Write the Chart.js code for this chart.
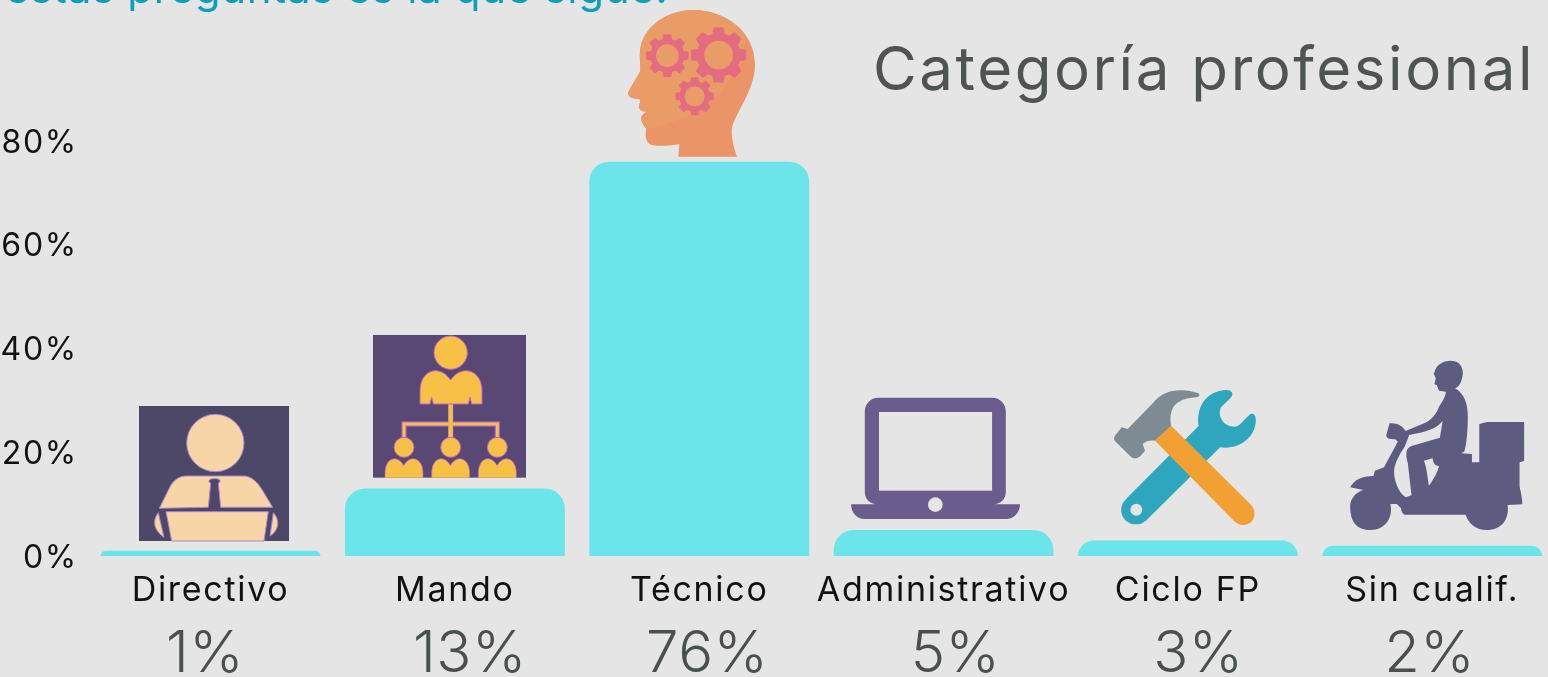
<!DOCTYPE html>
<html lang="es">
<head>
<meta charset="utf-8">
<style>
html,body{margin:0;padding:0;background:#E5E5E5;overflow:hidden;width:1548px;height:677px}
canvas{position:absolute;left:0;top:0}
</style>
<script src="https://cdn.jsdelivr.net/npm/chart.js@4"></script>
</head>
<body>
<canvas id="c" width="1600" height="677" style="width:1600px;height:677px"></canvas>
<script>
const categories = ['Directivo','Mando','Técnico','Administrativo','Ciclo FP','Sin cualif.'];
const shares = [1,13,76,5,3,2];
const shareLabelNudge = [-5.5,15,8,12,10.5,-2.5];
const headerText = 'estas preguntas es la que sigue.';
const titleText = 'Categoría profesional';

const BG='#E5E5E5', FONT='Inter, sans-serif';

function p(ctx,d,fill){ctx.fillStyle=fill;ctx.fill(new Path2D(d));}
function ell(ctx,x,y,rx,ry,fill,stroke){ctx.beginPath();ctx.ellipse(x,y,rx,ry,0,0,Math.PI*2);ctx.fillStyle=fill;ctx.fill();if(stroke){ctx.strokeStyle=stroke;ctx.lineWidth=3;ctx.stroke();}}
function inZoom(ctx,ox,oy,sx,sy,fn){ctx.save();ctx.translate(ox,oy);ctx.scale(1/sx,1/sy);fn();ctx.restore();}

function gear(ctx,cx,cy,ro,ri,hole,col,holeCol,rot){
  const n=8;ctx.beginPath();
  for(let i=0;i<n;i++){
    const a=rot+i*2*Math.PI/n,w=Math.PI/n;
    const pts=[[ri,a-w*0.72],[ro,a-w*0.46],[ro,a+w*0.46],[ri,a+w*0.72]];
    pts.forEach(([r,t],k)=>{const x=cx+r*Math.cos(t),y=cy+r*Math.sin(t);(i===0&&k===0)?ctx.moveTo(x,y):ctx.lineTo(x,y);});
  }
  ctx.closePath();ctx.fillStyle=col;ctx.fill();
  ell(ctx,cx,cy,hole,hole,holeCol);
}

function iconDirectivo(ctx){
  inZoom(ctx,90,320,3,3,()=>{
    ctx.fillStyle='#4E4868';ctx.fillRect(147,258,450,405);
    const skin='#F7D5A6',edge='#A884CF';
    ell(ctx,376,369,86,86,skin,edge);
    ctx.strokeStyle=edge;ctx.lineWidth=3;
    const body=new Path2D('M285,468 L465,468 C490,472 505,490 520,515 L548,562 L392,562 L385,490 C395,482 390,476 374,476 C358,476 352,482 362,490 L355,562 L208,565 L240,500 C250,482 265,470 285,468 Z');
    ctx.fillStyle=skin;ctx.fill(body);ctx.stroke(body);
    const desk=new Path2D('M228,575 L535,575 L522,663 L245,663 Z');
    ctx.fill(desk);ctx.stroke(desk);
    const la=new Path2D('M205,578 C188,600 188,628 222,652 Z');ctx.fill(la);ctx.stroke(la);
    const ra=new Path2D('M550,578 C570,600 568,630 540,648 Z');ctx.fill(ra);ctx.stroke(ra);
  });
}
function personBody(ctx,x,y,w,h,col){
  ctx.save();ctx.translate(x,y);ctx.scale(w/186,h/104);
  const b=new Path2D('M45,0 C60,0 75,5 92,28 C108,5 125,0 140,0 C170,2 186,30 186,60 L186,100 L155,100 L150,80 L145,100 L40,100 L35,80 L30,100 L0,100 L0,60 C0,30 15,2 45,0 Z');
  ctx.fillStyle=col;ctx.fill(b);ctx.strokeStyle='#C25FD0';ctx.lineWidth=3;ctx.stroke(b);
  ctx.restore();
}
function iconMando(ctx){
  inZoom(ctx,90,320,3,3,()=>{
    ctx.fillStyle='#594873';ctx.fillRect(849,45,459,428);
    const y='#F6C146',e='#C25FD0';
    ctx.save();ctx.beginPath();ctx.rect(849,45,459,428);ctx.clip();
    ctx.strokeStyle='#A45FD8';ctx.lineWidth=16;ctx.beginPath();
    ctx.moveTo(942,360);ctx.lineTo(942,312);ctx.lineTo(1222,312);ctx.lineTo(1222,360);ctx.moveTo(1082,250);ctx.lineTo(1082,360);ctx.stroke();
    ctx.strokeStyle=y;ctx.lineWidth=9;ctx.stroke();
    ctx.beginPath();ctx.lineWidth=13;ctx.moveTo(1082,250);ctx.lineTo(1082,360);ctx.stroke();
    ell(ctx,1082,98,50,50,y,e);
    personBody(ctx,990,152,186,104,y);
    [942,1082,1222].forEach(x=>{ell(ctx,x,382,30,30,y,e);personBody(ctx,x-57,416,114,75,y);});
    ctx.restore();
  });
}
function iconTecnico(ctx){
  inZoom(ctx,580,0,3,3,()=>{
    const head=new Path2D('M295,470 L298,432 C270,438 215,442 205,428 C195,420 197,400 198,385 C185,370 180,355 187,345 L200,335 C180,335 170,320 182,305 L178,297 C150,297 138,285 148,270 L180,215 C185,200 175,180 182,140 C195,80 260,30 340,30 C430,30 525,90 525,195 C525,260 480,320 460,370 C445,400 470,470 472,470 Z');
    ctx.fillStyle='#EA9468';ctx.fill(head);
    ctx.save();ctx.clip(head);
    p(ctx,'M100,0 L510,0 L500,115 C480,200 440,260 400,300 C340,350 260,375 195,388 L100,400 Z','#E99C66');
    ctx.restore();
    const pink='#E46C80',hole='#EA9C68';
    gear(ctx,416,165,84,66,43,pink,hole,Math.PI/2);
    gear(ctx,262,167,65,51,34,pink,hole,Math.PI/2);
    gear(ctx,344,289,58,46,30,pink,hole,Math.PI/2);
  });
}
function iconLaptop(ctx){
  inZoom(ctx,830,350,2.184,3,()=>{
    const c='#6A5C8C';
    p(ctx,'M106,143 L354,143 C372,143 384,162 384,185 L384,425 C384,448 372,463 354,463 L415,463 C415,490 400,507 385,507 L75,507 C60,507 46,490 46,463 L106,463 C88,463 76,448 76,425 L76,185 C76,162 88,143 106,143 Z',c);
    ctx.fillStyle=BG;ctx.fillRect(107,186,247,236);
    ell(ctx,230,464,16,22,BG);
  });
}
function iconTools(ctx){
  inZoom(ctx,830,350,2.184,3,()=>{
    const t='#2DA6BE';
    ell(ctx,668,480,32,43,t);
    p(ctx,'M648,445 L805,228 C800,180 815,125 865,120 C880,120 882,135 875,143 L855,170 C845,190 855,230 885,230 C895,228 900,215 918,192 C925,188 930,195 930,210 C930,260 895,300 852,292 L690,512 Z',t);
    ell(ctx,669,479,13,18,BG);
    p(ctx,'M745,228 C740,180 750,150 790,143 C805,143 810,138 805,130 C770,115 730,115 705,160 L650,237 L637,232 L622,258 C618,268 622,272 625,277 L658,322 C665,328 672,325 678,318 L688,302 L683,282 C690,272 700,270 710,272 Z','#7F8B92');
    p(ctx,'M745,227 L920,465 C935,490 925,525 903,525 C895,525 888,520 882,512 L710,272 Z','#F2A034');
  });
}
function iconScooter(ctx){
  inZoom(ctx,830,350,2.184,3,()=>{
    p(ctx,'M1320,68 C1322,45 1340,32 1355,32 C1375,32 1383,50 1382,72 C1380,95 1375,110 1365,115 C1385,130 1393,160 1393,200 C1393,240 1390,290 1385,305 L1378,310 L1402,312 L1402,337 L1418,337 L1418,222 L1435,216 L1516,216 L1516,333 L1506,337 L1506,410 C1510,430 1512,450 1512,463 L1480,465 C1484,510 1465,540 1435,540 C1410,540 1395,520 1388,494 L1255,494 C1248,490 1248,480 1247,475 L1238,462 L1224,462 C1230,500 1215,540 1180,540 C1150,540 1136,515 1136,470 C1136,445 1150,425 1165,420 L1136,412 C1145,390 1160,378 1187,378 L1190,362 L1210,352 L1240,275 L1235,268 C1220,268 1215,265 1215,255 L1222,220 C1240,218 1250,228 1257,243 L1300,218 C1315,208 1325,190 1330,170 C1340,150 1345,135 1345,125 L1330,122 L1325,105 L1320,103 L1323,85 L1318,70 Z','#5E5B80');
    p(ctx,'M1265,255 C1300,245 1322,240 1338,213 L1332,263 L1270,288 C1255,295 1258,320 1262,340 L1270,436 L1257,442 C1240,425 1232,390 1232,365 C1232,340 1245,310 1255,290 Z',BG);
    p(ctx,'M1297,332 L1316,325 C1318,340 1320,347 1330,348 C1328,365 1315,395 1308,407 C1305,380 1303,350 1297,332 Z',BG);
  });
}

const decor={
  id:'decor',
  beforeDraw(chart){
    chart.ctx.letterSpacing='1.7px';
    // y tick labels sit 2px below the tick position in the reference
    chart.scales.y.getLabelItems(chart.chartArea).forEach(it=>{
      it.options.translation=[it.options.translation[0],chart.scales.y.getPixelForValue(Number(String(it.label).replace('%','')))+2];
    });
  },
  beforeDatasetsDraw(chart){
    // Rounded corners reach the full height of short bars: extend each bar below the axis, where it is clipped
    const zero=chart.scales.y.getPixelForValue(0);
    chart.getDatasetMeta(0).data.forEach(b=>{b.base=2*zero-b.y;});
  },
  afterDraw(chart){
    const ctx=chart.ctx,x=chart.scales.x;
    ctx.save();
    [iconDirectivo,iconMando,iconTecnico,iconLaptop,iconTools,iconScooter].forEach(f=>f(ctx));
    ctx.textBaseline='alphabetic';
    ctx.textAlign='left';
    ctx.letterSpacing='0.7px';
    ctx.font='400 42px '+FONT;ctx.fillStyle='#0A9FBC';
    ctx.fillText(headerText,5,3);
    ctx.letterSpacing='2.55px';
    ctx.font='400 60px '+FONT;ctx.fillStyle='#4F5352';
    ctx.textAlign='right';
    ctx.fillText(titleText,1535,90);
    ctx.textAlign='center';
    ctx.letterSpacing='0.5px';
    ctx.font='350 58px '+FONT;ctx.fillStyle='#4A4F4F';
    shares.forEach((v,i)=>ctx.fillText(v+'%',x.getPixelForValue(i)+shareLabelNudge[i],672));
    ctx.restore();
  }
};

new Chart(document.getElementById('c'),{
  type:'bar',
  data:{labels:categories,datasets:[{data:shares,backgroundColor:'#6CE5EA',borderWidth:0,borderRadius:20,barPercentage:0.9,categoryPercentage:1}]},
  plugins:[decor],
  options:{
    responsive:false,animation:false,
    layout:{padding:{top:141,right:45.6,bottom:0,left:0}},
    plugins:{legend:{display:false},title:{display:false},tooltip:{enabled:false}},
    scales:{
      x:{grid:{display:false,drawTicks:false},border:{display:false},
         ticks:{autoSkip:false,maxRotation:0,minRotation:0,padding:14,color:'#111',font:{family:FONT,size:34,weight:'400'}},
         afterFit(s){s.height=121;}},
      y:{min:0,max:80,grid:{display:false,drawTicks:false},border:{display:false},
         ticks:{stepSize:20,padding:10.5,color:'#111',font:{family:FONT,size:32,weight:'400'},callback:v=>v+'%'},
         afterFit(s){s.width=88.4;}}
    }
  }
});
</script>
</body>
</html>
